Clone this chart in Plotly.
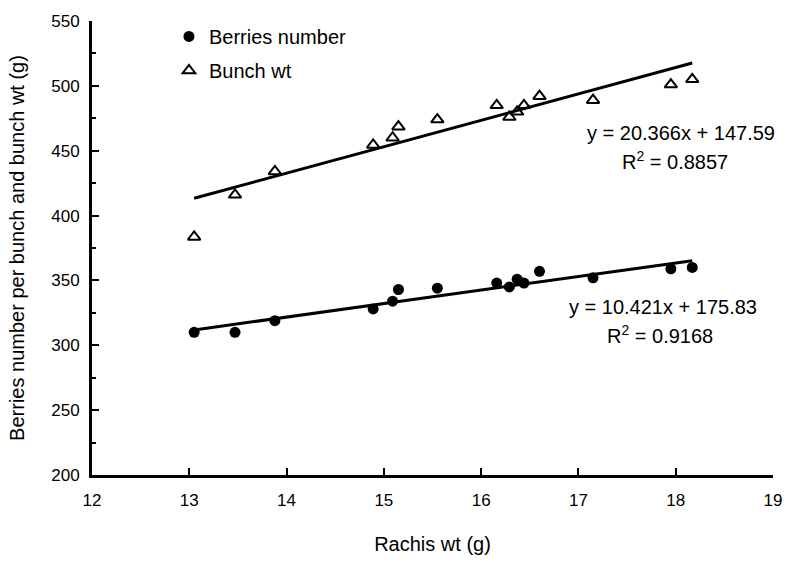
import plotly.graph_objects as go

# Data
rachis_wt = [13.05, 13.47, 13.88, 14.89, 15.09, 15.15, 15.55, 16.16, 16.29, 16.37, 16.44, 16.60, 17.15, 17.95, 18.17]
berries_number = [310, 310, 319, 328, 334, 343, 344, 348, 345, 351, 348, 357, 352, 359, 360]
bunch_wt = [383.5, 416, 434, 454.5, 460, 468.5, 474, 485, 476, 480, 485, 492, 489, 501, 505]

# Trend line equations shown on the chart
berries_slope, berries_intercept, berries_r2 = 10.421, 175.83, "0.9168"
bunch_slope, bunch_intercept, bunch_r2 = 20.366, 147.59, "0.8857"

x_ticks = [12, 13, 14, 15, 16, 17, 18, 19]
y_ticks = [200, 250, 300, 350, 400, 450, 500, 550]

FONT = "Liberation Sans, Arial, sans-serif"

xmin, xmax = min(rachis_wt), max(rachis_wt)
trend_x = [xmin, xmax]

fig = go.Figure()

fig.add_trace(go.Scatter(
    x=rachis_wt, y=berries_number, mode="markers", name="Berries number", legendgroup="a",
    marker=dict(symbol="circle", size=11, color="black"),
))
fig.add_trace(go.Scatter(
    x=rachis_wt, y=bunch_wt, mode="markers", name="Bunch wt", legendgroup="b",
    marker=dict(symbol="triangle-up-open", size=11, color="black", line=dict(width=2, color="black")),
))
fig.add_trace(go.Scatter(
    x=trend_x, y=[berries_slope * v + berries_intercept for v in trend_x],
    mode="lines", line=dict(color="black", width=3), showlegend=False, hoverinfo="skip",
))
fig.add_trace(go.Scatter(
    x=trend_x, y=[bunch_slope * v + bunch_intercept for v in trend_x],
    mode="lines", line=dict(color="black", width=3), showlegend=False, hoverinfo="skip",
))

ann_font = dict(family=FONT, size=20, color="black")
annotations = [
    dict(x=18.05, y=463.5, xref="x", yref="y", text=f"y = {bunch_slope}x + {bunch_intercept}",
         showarrow=False, font=ann_font, xanchor="center", yanchor="middle"),
    dict(x=17.99, y=442.5, xref="x", yref="y", text=f"R<sup>2</sup> = {bunch_r2}",
         showarrow=False, font=ann_font, xanchor="center", yanchor="middle"),
    dict(x=17.87, y=329.5, xref="x", yref="y", text=f"y = {berries_slope}x + {berries_intercept}",
         showarrow=False, font=ann_font, xanchor="center", yanchor="middle"),
    dict(x=17.84, y=308.5, xref="x", yref="y", text=f"R<sup>2</sup> = {berries_r2}",
         showarrow=False, font=ann_font, xanchor="center", yanchor="middle"),
]

fig.update_layout(
    width=794, height=564,
    margin=dict(l=92, r=19, t=17, b=89),
    paper_bgcolor="white", plot_bgcolor="white",
    font=dict(family=FONT, size=16, color="black"),
    showlegend=True,
    legend=dict(x=0.113, y=1.009, xanchor="left", yanchor="top",
                bgcolor="rgba(0,0,0,0)", font=dict(family=FONT, size=20, color="black"),
                itemwidth=30, tracegroupgap=5),
    annotations=annotations,
    xaxis=dict(
        range=[12, 19], tickvals=x_ticks, ticktext=[str(t) for t in x_ticks],
        showgrid=False, zeroline=False, showline=True, linecolor="black", linewidth=3,
        ticks="inside", ticklen=7, tickwidth=2, tickcolor="black",
        ticklabelstandoff=8,
        tickfont=dict(family=FONT, size=17, color="black"),
        title=dict(text="Rachis wt (g)", font=dict(family=FONT, size=20, color="black"), standoff=28),
    ),
    yaxis=dict(
        range=[200, 550], tickvals=y_ticks, ticktext=[str(t) for t in y_ticks],
        showgrid=False, zeroline=False, showline=True, linecolor="black", linewidth=3,
        ticks="inside", ticklen=7, tickwidth=2, tickcolor="black",
        ticklabelstandoff=6,
        minor=dict(dtick=25, ticks="inside", ticklen=4, tickwidth=2, tickcolor="black", showgrid=False),
        tickfont=dict(family=FONT, size=17, color="black"),
        title=dict(text="Berries number per bunch and bunch wt (g)",
                   font=dict(family=FONT, size=20, color="black"), standoff=22),
    ),
)

fig.write_html("out.html")
